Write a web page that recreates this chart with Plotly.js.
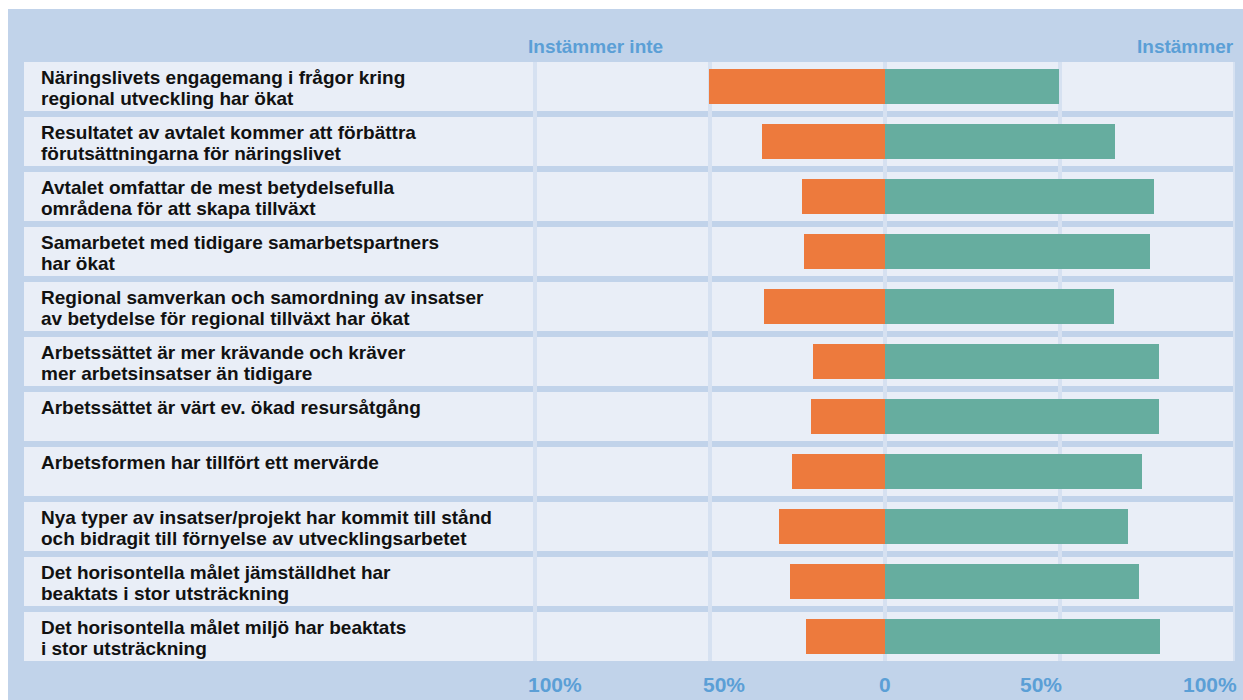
<!DOCTYPE html>
<html>
<head>
<meta charset="utf-8">
<script src="https://cdn.plot.ly/plotly-3.0.1.min.js"></script>
<style>html,body{margin:0;padding:0;background:#fff;}#chart{width:1243px;height:700px;}</style>
</head>
<body>
<div id="chart"></div>
<script>
const categories = [
  "Näringslivets engagemang i frågor kring<br>regional utveckling har ökat",
  "Resultatet av avtalet kommer att förbättra<br>förutsättningarna för näringslivet",
  "Avtalet omfattar de mest betydelsefulla<br>områdena för att skapa tillväxt",
  "Samarbetet med tidigare samarbetspartners<br>har ökat",
  "Regional samverkan och samordning av insatser<br>av betydelse för regional tillväxt har ökat",
  "Arbetssättet är mer krävande och kräver<br>mer arbetsinsatser än tidigare",
  "Arbetssättet är värt ev. ökad resursåtgång",
  "Arbetsformen har tillfört ett mervärde",
  "Nya typer av insatser/projekt har kommit till stånd<br>och bidragit till förnyelse av utvecklingsarbetet",
  "Det horisontella målet jämställdhet har<br>beaktats i stor utsträckning",
  "Det horisontella målet miljö har beaktats<br>i stor utsträckning"
];
const instammerInte = [50.3, 35.1, 23.7, 23.1, 34.6, 20.5, 21.1, 26.6, 30.3, 27.1, 22.6];
const instammer = [49.7, 65.7, 76.9, 75.7, 65.4, 78.3, 78.3, 73.4, 69.3, 72.6, 78.5];
const tickVals = [-100, -50, 0, 50, 100];
const tickText = ["100%", "50%", "0", "50%", "100%"];
const headerLeft = "Instämmer inte";
const headerRight = "Instämmer";

const W = 1243, H = 700;
const mL = 24, mR = 8, mT = 62, mB = 39;
const pw = W - mL - mR, ph = H - mT - mB;
const FONT = '"Liberation Sans Narrow", "Arial Narrow", "Liberation Sans", sans-serif';
const BLUE = '#5b9fd6';
const idx = categories.map((c, i) => i);
const half = 0.445;

const traces = [
  {type: 'bar', orientation: 'h', y: idx, x: instammerInte.map(v => -v), width: 0.64,
   marker: {color: '#ed7a3d'}, hoverinfo: 'skip', name: headerLeft},
  {type: 'bar', orientation: 'h', y: idx, x: instammer, width: 0.64,
   marker: {color: '#66ad9f'}, hoverinfo: 'skip', name: headerRight}
];

const shapes = [];
// page background
shapes.push({type: 'rect', xref: 'paper', yref: 'paper', layer: 'below',
  x0: (8 - mL) / pw, x1: (W - mL) / pw, y0: -mB / ph, y1: (H - mB - 9) / ph,
  fillcolor: '#c1d3ea', line: {width: 0}});
// row backgrounds
idx.forEach(i => shapes.push({type: 'rect', xref: 'paper', yref: 'y', layer: 'below',
  x0: 0, x1: 1, y0: i - half, y1: i + half, fillcolor: '#e9eef7', line: {width: 0}}));
// gridlines
tickVals.forEach(v => shapes.push({type: 'line', xref: 'x', yref: 'paper', layer: 'below',
  x0: v, x1: v, y0: 0, y1: 1, line: {color: '#d6e1f1', width: 4}}));

const annotations = [];
categories.forEach((c, i) => {
  c.split('<br>').forEach((line, j) => {
    annotations.push({xref: 'paper', yref: 'y', x: (39 - mL) / pw, y: i - half,
      xanchor: 'left', yanchor: 'middle', yshift: -(15 + 21 * j), showarrow: false,
      text: line, font: {family: FONT, size: 19, color: '#111', weight: 'bold'}});
  });
});
tickVals.forEach((v, k) => {
  annotations.push({xref: 'x', yref: 'paper', x: v, y: 0, yanchor: 'middle', yshift: -23,
    xanchor: v < 0 ? 'left' : (v > 0 ? 'right' : 'center'), xshift: v < 0 ? -9 : (v > 0 ? 4 : 0),
    showarrow: false, text: tickText[k], font: {family: FONT, size: 21, color: BLUE, weight: 'bold'}});
});
annotations.push({xref: 'x', yref: 'paper', x: tickVals[0], y: 1, yanchor: 'middle', yshift: 16,
  xanchor: 'left', xshift: -9, showarrow: false, text: headerLeft,
  font: {family: FONT, size: 19, color: BLUE, weight: 'bold'}});
annotations.push({xref: 'x', yref: 'paper', x: tickVals[4], y: 1, yanchor: 'middle', yshift: 16,
  xanchor: 'right', xshift: 1, showarrow: false, text: headerRight,
  font: {family: FONT, size: 19, color: BLUE, weight: 'bold'}});

const layout = {
  width: W, height: H,
  margin: {l: mL, r: mR, t: mT, b: mB, pad: 0},
  paper_bgcolor: '#ffffff', plot_bgcolor: 'rgba(0,0,0,0)',
  barmode: 'relative', bargap: 0, showlegend: false,
  xaxis: {range: [-246, 100], showgrid: false, zeroline: false, showticklabels: false, ticks: '', fixedrange: true},
  yaxis: {type: 'linear', range: [idx.length - 1 + half, -half], showgrid: false, zeroline: false,
          showticklabels: false, ticks: '', fixedrange: true},
  shapes: shapes, annotations: annotations
};
Plotly.newPlot('chart', traces, layout, {displayModeBar: false, staticPlot: true});
</script>
</body>
</html>
